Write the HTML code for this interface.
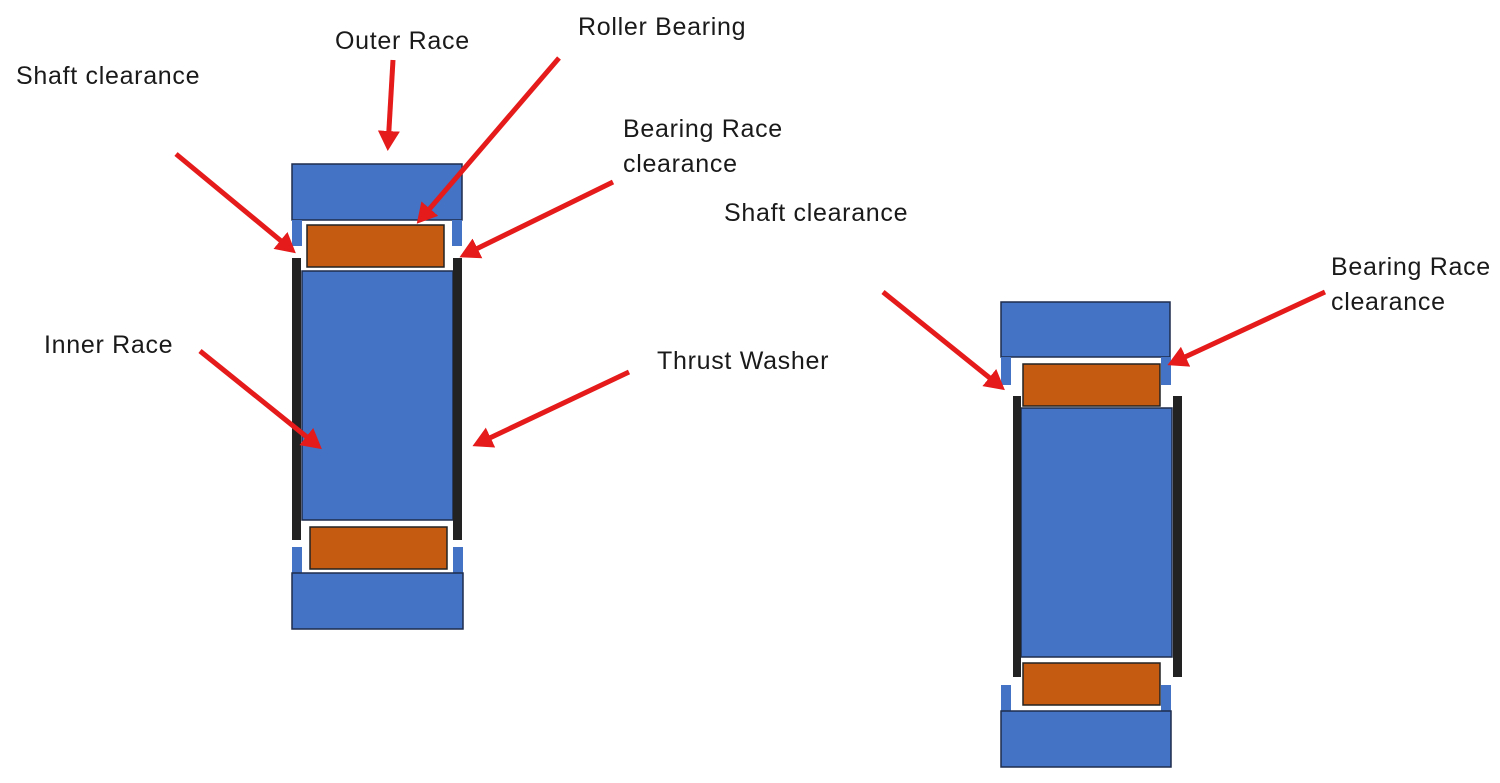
<!DOCTYPE html>
<html><head><style>
html,body{margin:0;padding:0;background:#fff;}
svg{display:block;}
text{font-family:"Liberation Sans",Calibri,sans-serif;font-size:25px;letter-spacing:0.7px;fill:#1a1a1a;}
</style></head><body>
<svg width="1500" height="783" viewBox="0 0 1500 783" xmlns="http://www.w3.org/2000/svg">
<defs>
<marker id="a" markerWidth="4" markerHeight="4.4" refX="3" refY="2.2" orient="auto" markerUnits="strokeWidth">
<path d="M0,0 L4,2.2 L0,4.4 z" fill="#e51a1a"/></marker>
</defs>
<g stroke="#1f2d4d" stroke-width="1.5">
<rect x="292" y="164" width="170" height="56" fill="#4472c4"/>
<rect x="292" y="220" width="10" height="26" fill="#4472c4" stroke="none"/>
<rect x="452" y="220" width="10" height="26" fill="#4472c4" stroke="none"/>
<rect x="307" y="225" width="137" height="42" fill="#c55a11" stroke="#222"/>
<rect x="302" y="271" width="151" height="249" fill="#4472c4"/>
<rect x="292" y="258" width="9" height="282" fill="#222" stroke="none"/>
<rect x="453" y="258" width="9" height="282" fill="#222" stroke="none"/>
<rect x="310" y="527" width="137" height="42" fill="#c55a11" stroke="#222"/>
<rect x="292" y="547" width="10" height="26" fill="#4472c4" stroke="none"/>
<rect x="453" y="547" width="10" height="26" fill="#4472c4" stroke="none"/>
<rect x="292" y="573" width="171" height="56" fill="#4472c4"/>
<rect x="1001" y="302" width="169" height="55" fill="#4472c4"/>
<rect x="1001" y="357" width="10" height="28" fill="#4472c4" stroke="none"/>
<rect x="1161" y="357" width="10" height="28" fill="#4472c4" stroke="none"/>
<rect x="1023" y="364" width="137" height="42" fill="#c55a11" stroke="#222"/>
<rect x="1021" y="408" width="151" height="249" fill="#4472c4"/>
<rect x="1013" y="396" width="8" height="281" fill="#222" stroke="none"/>
<rect x="1173" y="396" width="9" height="281" fill="#222" stroke="none"/>
<rect x="1023" y="663" width="137" height="42" fill="#c55a11" stroke="#222"/>
<rect x="1001" y="685" width="10" height="26" fill="#4472c4" stroke="none"/>
<rect x="1161" y="685" width="10" height="26" fill="#4472c4" stroke="none"/>
<rect x="1001" y="711" width="170" height="56" fill="#4472c4"/>
</g>
<g stroke="#e51a1a" stroke-width="5" fill="none" marker-end="url(#a)">
<line x1="393" y1="60" x2="388" y2="146"/>
<line x1="559" y1="58" x2="420" y2="220"/>
<line x1="176" y1="154" x2="292" y2="250"/>
<line x1="613" y1="182" x2="464" y2="255"/>
<line x1="200" y1="351" x2="318" y2="446"/>
<line x1="629" y1="372" x2="477" y2="444"/>
<line x1="883" y1="292" x2="1001" y2="387"/>
<line x1="1325" y1="292" x2="1172" y2="363"/>
</g>
<text x="335" y="49">Outer Race</text>
<text x="578" y="35">Roller Bearing</text>
<text x="16" y="84">Shaft clearance</text>
<text x="623" y="137">Bearing Race</text>
<text x="623" y="172">clearance</text>
<text x="44" y="353">Inner Race</text>
<text x="657" y="369">Thrust Washer</text>
<text x="724" y="221">Shaft clearance</text>
<text x="1331" y="275">Bearing Race</text>
<text x="1331" y="310">clearance</text>
</svg>
</body></html>
